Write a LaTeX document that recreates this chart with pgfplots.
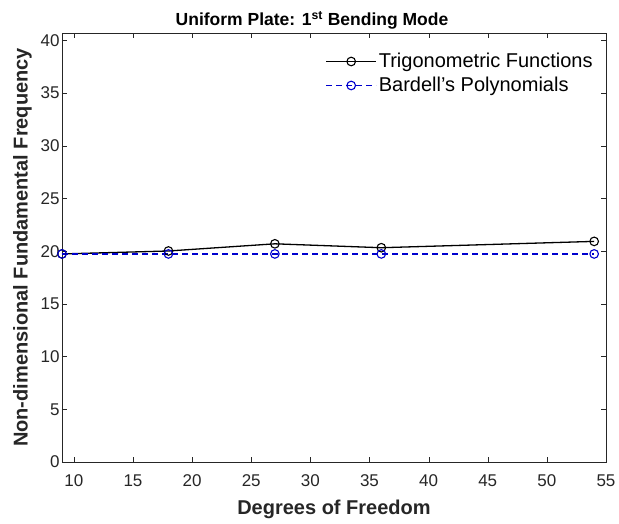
\documentclass[border=0pt]{standalone}
\usepackage{fontspec}
\setmainfont{Liberation Sans}
\usepackage{pgfplots}
\pgfplotsset{compat=1.18}
\definecolor{axgray}{RGB}{38,38,38}
\definecolor{bardblue}{RGB}{0,0,205}
\begin{document}
\begin{tikzpicture}[x=1pt,y=1pt]
  \path[use as bounding box] (-62,-61) rectangle (557,462);
  \begin{axis}[
    at={(0,0)}, anchor=south west,
    scale only axis,
    width=544pt, height=429pt,
    xmin=9, xmax=55,
    ymin=0, ymax=40.7,
    xtick={10,15,...,55},
    ytick={0,5,...,40},
    tick align=inside,
    major tick length=5pt,
    axis line style={axgray},
    tick style={axgray},
    ticklabel style={font=\fontsize{17}{19}\selectfont, text=axgray},
    xticklabel style={yshift=-9pt},
    yticklabel style={xshift=1pt},
    /pgf/number format/assume math mode=true,
    xlabel={\textbf{Degrees of Freedom}},
    ylabel={\textbf{Non-dimensional Fundamental Frequency}},
    xlabel style={font=\fontsize{20}{22}\selectfont, text=axgray, yshift=-7pt},
    ylabel style={font=\fontsize{20}{22}\selectfont, text=axgray, yshift=2pt},
    title={\textbf{Uniform Plate: 1\textsuperscript{st} Bending Mode}},
    title style={font=\fontsize{17.5}{19}\selectfont, yshift=-6pt, xshift=-22pt},
    legend style={at={(0.985,0.962)}, anchor=north east, draw=none, fill=none,
      font=\fontsize{20}{22}\selectfont, row sep=4pt},
    legend cell align=left,
    legend image code/.code={
      \draw[mark repeat=2, mark phase=2, #1] plot coordinates {(0pt,0pt) (25pt,0pt) (50pt,0pt)};
    },
  ]
    \addplot[color=black, line width=1.3pt, mark=o, mark size=4.3pt, mark options={solid, line width=1.1pt}] coordinates {
      (9,19.74) (18,20.02) (27,20.70) (36,20.33) (54,20.93)
    };
    \addlegendentry{Trigonometric Functions}
    \addplot[color=bardblue, line width=1.3pt, dash pattern=on 6pt off 4pt, mark=o, mark size=4.3pt, mark options={solid, line width=1.1pt}] coordinates {
      (9,19.74) (18,19.74) (27,19.74) (36,19.74) (54,19.74)
    };
    \addlegendentry{Bardell's Polynomials}
  \end{axis}
\end{tikzpicture}
\end{document}
